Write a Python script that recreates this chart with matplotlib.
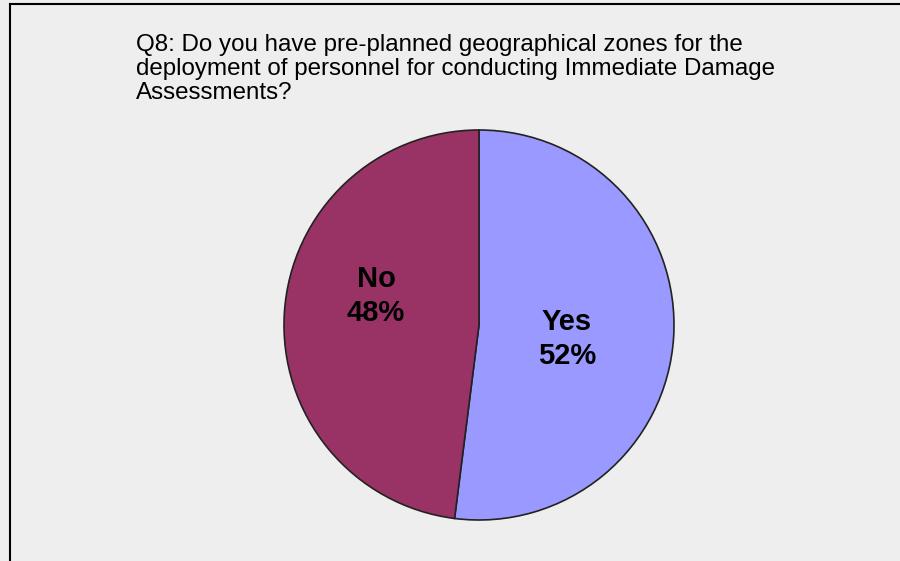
import matplotlib
matplotlib.use('Agg')
import matplotlib.pyplot as plt
from matplotlib.lines import Line2D

# survey answers for Q8
answers = ['Yes', 'No']
shares = [52, 48]
slice_colors = ['#9999FF', '#993366']

title_lines = ['Q8: Do you have pre-planned geographical zones for the',
               'deployment of personnel for conducting Immediate Damage',
               'Assessments?']

plt.rcParams['font.family'] = ['Liberation Sans', 'DejaVu Sans']

fig = plt.figure(figsize=(9, 5.61), dpi=100)
fig.patch.set_facecolor('#EEEEEE')

# frame lines along top and left edge
fig.add_artist(Line2D([10 / 900, 1], [1 - 4 / 561, 1 - 4 / 561], color='black', lw=1.5))
fig.add_artist(Line2D([10 / 900, 10 / 900], [0, 1 - 4 / 561], color='black', lw=1.5))

# pie area (center ~ (479, 325), radius ~195 px)
r = 195
cx, cy = 479, 325
ax = fig.add_axes([(cx - r) / 900, 1 - (cy + r) / 561, 2 * r / 900, 2 * r / 561])
wedges, texts = ax.pie(shares, colors=slice_colors, startangle=90, counterclock=False,
                       wedgeprops=dict(edgecolor='#222222', linewidth=1.2))
ax.set_aspect('auto')
ax.set_xlim(-1, 1)
ax.set_ylim(-1, 1)

# slice labels
label_pos = {'Yes': (567, 339), 'No': (376, 296)}
for name, pct in zip(answers, shares):
    px, py = label_pos[name]
    ax.text((px - cx) / r, -(py - cy) / r, f'{name}\n{pct}%', ha='center', va='center',
            fontsize=21, fontweight='bold', linespacing=1.3)

for i, line in enumerate(title_lines):
    fig.text(136 / 900, 1 - (45 + 24 * i) / 561, line, ha='left', va='center',
             fontsize=17.4, color='black')

plt.savefig('out.png', dpi=100, facecolor=fig.get_facecolor())
plt.close()
